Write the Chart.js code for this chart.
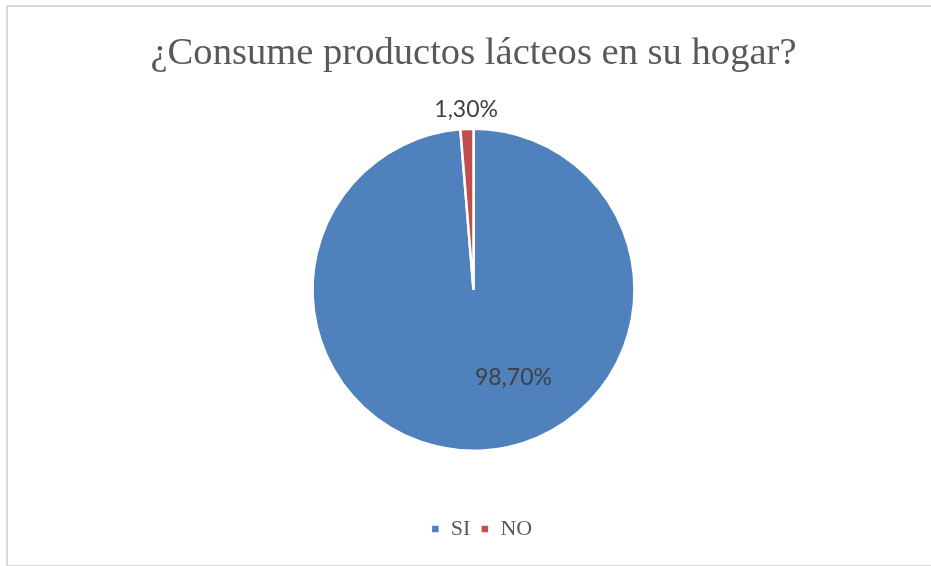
<!DOCTYPE html>
<html>
<head>
<meta charset="utf-8">
<script src="https://cdn.jsdelivr.net/npm/chart.js@4"></script>
<style>
  body { margin: 0; background: #fff; }
  #wrap { position: relative; width: 931px; height: 566px; }
  #frame { position: absolute; left: 6px; top: 5px; width: 940px; height: 558px; border: 2px solid #d9d9d9; pointer-events: none; }
</style>
</head>
<body>
<div id="wrap">
  <canvas id="torta" width="931" height="566"></canvas>
  <div id="frame"></div>
</div>
<script>
// dati della torta
categorie = ['SI', 'NO']
valori = [98.7, 1.3]
etichette = ['98,70%', '1,30%']
colori = ['#4F81BD', '#C0504D']

// etichette dei dati: posizione in base all'arco (angolo, frazione del raggio)
const etichettePlugin = {
    id: 'etichette',
    afterDatasetsDraw(chart) {
        const ctx = chart.ctx
        const archi = chart.getDatasetMeta(0).data
        ctx.save()
        ctx.font = '23px Lato'
        ctx.fillStyle = '#404040'
        ctx.textAlign = 'center'
        ctx.textBaseline = 'middle'
        archi.forEach((arco, i) => {
            let ang, fr
            if (i == 0) {
                ang = 65.6 * Math.PI / 180
                fr = 0.6
            } else {
                ang = (arco.startAngle + arco.endAngle) / 2
                fr = 1.12
            }
            const x = arco.x + Math.cos(ang) * arco.outerRadius * fr
            const y = arco.y + Math.sin(ang) * arco.outerRadius * fr
            ctx.fillText(etichette[i], x, y)
        })
        ctx.restore()
    }
}

// sposto un po' la legenda (a destra e in basso) come nell'originale
const spostaLegenda = {
    id: 'spostaLegenda',
    afterUpdate(chart) {
        const l = chart.legend
        l.left += 8
        l.right += 8
        l.top += 2
        l.bottom += 2
    }
}

const ctx = document.getElementById('torta').getContext('2d')
const torta = new Chart(ctx, {
    type: 'pie',
    data: {
        labels: categorie,
        datasets: [{
            data: valori,
            backgroundColor: colori,
            borderColor: '#ffffff',
            borderWidth: 2.5
        }]
    },
    options: {
        responsive: false,
        animation: false,
        radius: 161,
        layout: {
            padding: { top: 0, bottom: 18, left: 16, right: 0 }
        },
        plugins: {
            title: {
                display: true,
                text: '¿Consume productos lácteos en su hogar?',
                color: '#595959',
                font: { family: 'Liberation Serif', size: 38.6, weight: 'normal', lineHeight: 1 },
                padding: { top: 35, bottom: 0 }
            },
            legend: {
                position: 'bottom',
                labels: {
                    color: '#595959',
                    font: { family: 'Liberation Serif', size: 22 },
                    boxWidth: 9,
                    boxHeight: 9,
                    padding: 10
                }
            },
            tooltip: { enabled: false }
        }
    },
    plugins: [etichettePlugin, spostaLegenda]
})
</script>
</body>
</html>
